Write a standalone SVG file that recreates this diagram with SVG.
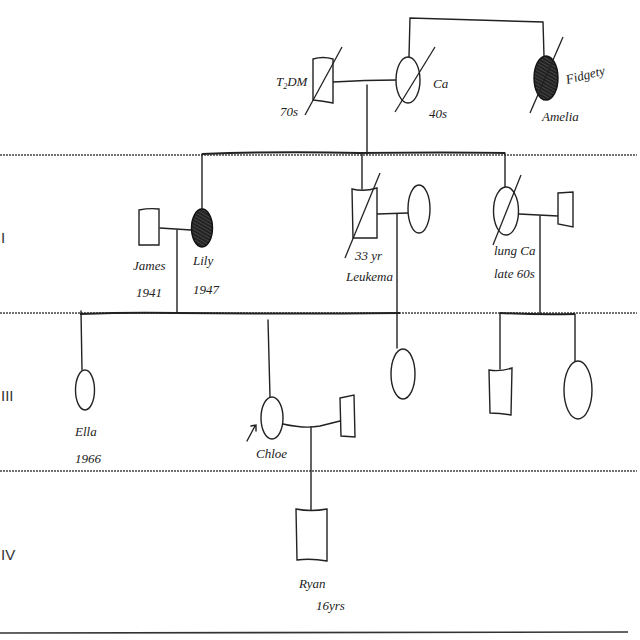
<svg xmlns="http://www.w3.org/2000/svg" width="640" height="640" viewBox="0 0 640 640">
<style>
.gen{stroke:#444;stroke-width:1.6;stroke-dasharray:2 1;fill:none}
.ln{stroke:#222;stroke-width:1.4;fill:none;stroke-linecap:round}
.sib{stroke:#222;stroke-width:2;fill:none}
.sh{stroke:#222;stroke-width:1.4;fill:#fff}
.aff{stroke:#111;stroke-width:1.4;fill:url(#hatch)}
.dec{stroke:#222;stroke-width:1.3;fill:none}
.t{font-family:"Liberation Serif",serif;font-style:italic;font-size:13px;fill:#222}
.g{font-family:"Liberation Sans Narrow","Liberation Sans",sans-serif;font-size:15px;fill:#333}
</style>
<defs>
<pattern id="hatch" width="3" height="3" patternUnits="userSpaceOnUse" patternTransform="rotate(-60)">
<rect width="3" height="3" fill="#222"/>
<line x1="0" y1="0" x2="0" y2="3" stroke="#777" stroke-width="0.8"/>
</pattern>
</defs>
<rect width="640" height="640" fill="#fff"/>
<g id="generation-lines">
<line class="gen" x1="0" y1="155" x2="637" y2="155"/>
<line class="gen" x1="0" y1="313" x2="637" y2="313"/>
<line class="gen" x1="0" y1="471" x2="637" y2="471"/>
<path d="M0 633 L628 632" stroke="#333" stroke-width="1.6" fill="none"/>
<text class="g" x="1" y="243">I</text>
<text class="g" x="1" y="401">III</text>
<text class="g" x="1" y="560">IV</text>
</g>
<g id="connectors">
<path class="ln" d="M333 82 Q365 80 397 80"/>
<path class="ln" d="M367 85 L367 154"/>
<path class="ln" d="M409 57 L410 18 Q480 20 543 22 L544 56"/>
<path class="sib" d="M202 154 Q280 151 360 153 Q450 152 505 153"/>
<path class="ln" d="M202 154 L202 209"/>
<path class="ln" d="M362 154 L362 189"/>
<path class="ln" d="M505 153 L505 187"/>
<path class="ln" d="M160 228 L191 230"/>
<path class="ln" d="M177 230 L177 313"/>
<path class="ln" d="M377 214 L408 213"/>
<path class="ln" d="M397 214 L397 348"/>
<path class="ln" d="M519 214 L558 216"/>
<path class="ln" d="M540 216 L540 313"/>
<path class="sib" d="M80 314 Q130 312 177 313 Q280 314 400 313"/>
<path class="ln" d="M81 311 L82 370"/>
<path class="ln" d="M268 320 L270 397"/>
<path class="sib" d="M500 313 Q540 315 575 314"/>
<path class="ln" d="M500 313 L500 369"/>
<path class="ln" d="M575 314 L575 361"/>
<path class="ln" d="M283 424 Q305 429 320 426 L340 421"/>
<path class="ln" d="M311 427 L311 510"/>
</g>
<g id="t2dm-male">
<path class="sh" d="M313 59 Q323 56 333 59 L333 103 Q323 101 313 100 Z"/>
<line class="dec" x1="305" y1="115" x2="342" y2="47"/>
<text class="t" x="276" y="86">T<tspan font-size="8" dy="3">2</tspan><tspan dy="-3">DM</tspan></text>
<text class="t" x="280" y="116">70s</text>
</g>
<g id="ca-female">
<ellipse class="sh" cx="408" cy="80" rx="12" ry="23"/>
<line class="dec" x1="395" y1="112" x2="435" y2="47"/>
<text class="t" x="433" y="88">Ca</text>
<text class="t" x="429" y="118">40s</text>
</g>
<g id="amelia">
<ellipse class="aff" cx="546" cy="78" rx="12" ry="22"/>
<line class="dec" x1="530" y1="113" x2="563" y2="37"/>
<text class="t" transform="translate(567 84) rotate(-14)">Fidgety</text>
<text class="t" x="542" y="121">Amelia</text>
</g>
<g id="james">
<path class="sh" d="M139 210 Q149 208 159 209 L159 245 L139 245 Z"/>
<text class="t" x="133" y="270">James</text>
<text class="t" x="136" y="297">1941</text>
</g>
<g id="lily">
<ellipse class="aff" cx="202" cy="228" rx="10.5" ry="19"/>
<text class="t" x="193" y="265">Lily</text>
<text class="t" x="193" y="294">1947</text>
</g>
<g id="leukemia-male">
<path class="sh" d="M352 189 Q364 192 377 188 L377 238 L353 238 Z"/>
<line class="dec" x1="345" y1="258" x2="380" y2="173"/>
<text class="t" x="355" y="260">33 yr</text>
<text class="t" x="346" y="281">Leukema</text>
</g>
<g id="leukemia-wife">
<ellipse class="sh" cx="419" cy="209" rx="11" ry="24"/>
</g>
<g id="lung-ca-female">
<ellipse class="sh" cx="506" cy="211" rx="12.5" ry="24"/>
<line class="dec" x1="493" y1="245" x2="521" y2="175"/>
<text class="t" x="494" y="255">lung Ca</text>
<text class="t" x="494" y="278">late 60s</text>
</g>
<g id="lung-ca-husband">
<path class="sh" d="M558 193 L573 192 L573 227 L558 224 Z"/>
</g>
<g id="ella">
<ellipse class="sh" cx="85" cy="390" rx="9.5" ry="20"/>
<text class="t" x="75" y="436">Ella</text>
<text class="t" x="75" y="463">1966</text>
</g>
<g id="chloe">
<ellipse class="sh" cx="272" cy="418" rx="11" ry="21"/>
<path class="ln" d="M247 441 L255 426 M251 426 L256 425 L256 431"/>
<text class="t" x="256" y="458">Chloe</text>
</g>
<g id="chloe-husband">
<path class="sh" d="M340 398 L354 395 L355 437 L341 436 Z"/>
</g>
<g id="leukemia-daughter">
<ellipse class="sh" cx="403" cy="374" rx="12" ry="25"/>
</g>
<g id="lung-ca-son">
<path class="sh" d="M489 370 Q500 372 512 368 L511 415 Q500 413 490 413 Z"/>
</g>
<g id="lung-ca-daughter">
<ellipse class="sh" cx="578" cy="390" rx="14" ry="29"/>
</g>
<g id="ryan">
<path class="sh" d="M296 509 Q311 512 327 509 L327 561 Q311 558 297 560 Z"/>
<text class="t" x="299" y="588">Ryan</text>
<text class="t" x="316" y="610">16yrs</text>
</g>
</svg>
